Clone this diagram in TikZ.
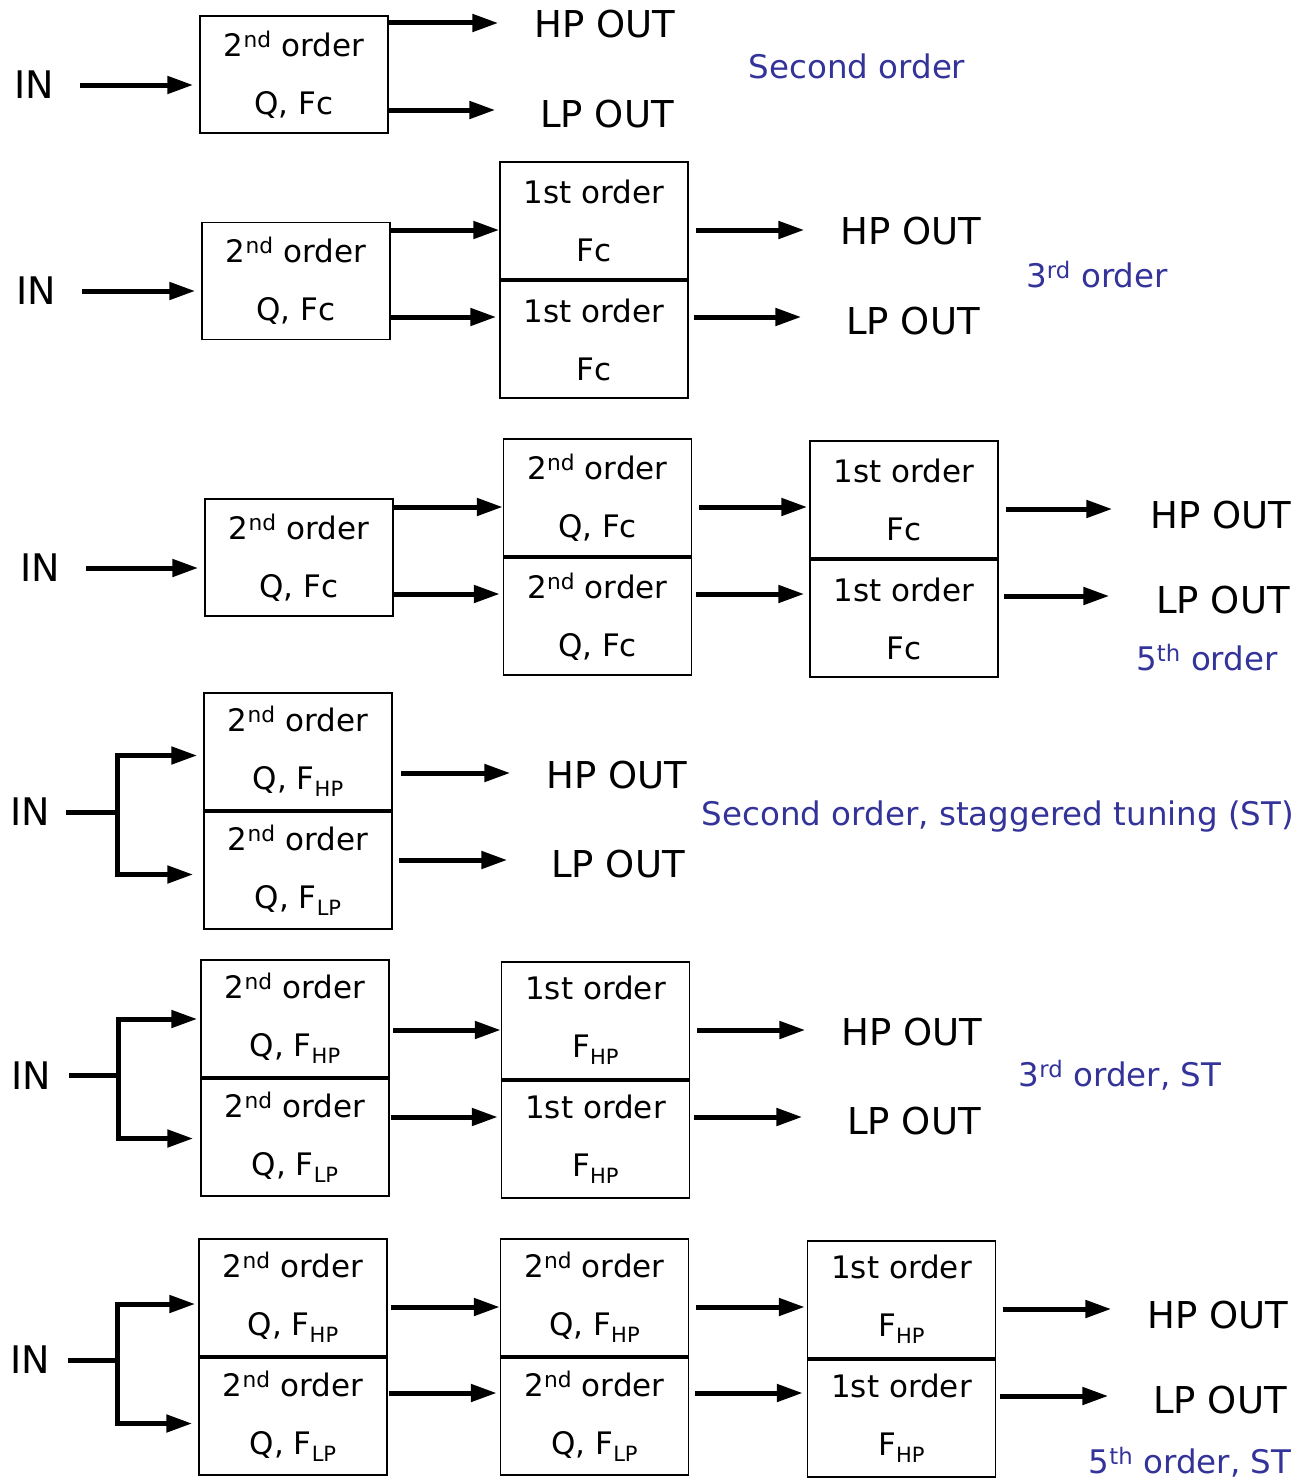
\documentclass[tikz,border=0pt]{standalone}
\usepackage{fontspec}
\setmainfont{DejaVu Sans}
\usetikzlibrary{arrows.meta}
\definecolor{labelblue}{RGB}{51,51,153}
\newcommand{\nd}{2\textsuperscript{nd} order}
\newcommand{\subtxt}[1]{\raisebox{-7pt}{\fontsize{21}{21}\selectfont #1}}
\newcommand{\fhp}{F\subtxt{HP}}
\newcommand{\flp}{F\subtxt{LP}}
\begin{document}
\begin{tikzpicture}[x=1pt,y=-1pt,
    filt/.style={draw,line width=1.5pt,minimum width=188pt,minimum height=117pt,
      inner sep=0pt,align=center,font=\fontsize{31}{58}\selectfont},
    outlbl/.style={inner sep=0pt,minimum width=143pt,font=\fontsize{37}{40}\selectfont},
    inlbl/.style={inner sep=0pt,font=\fontsize{38}{40}\selectfont},
    order/.style={inner sep=0pt,text=labelblue,font=\fontsize{32.5}{36}\selectfont},
    arr/.style={line width=5pt,-{Triangle[length=26pt,width=17pt]}},
    fork/.style={line width=5pt}]
  \useasboundingbox (0,0) rectangle (1309,1480);

  % second order
  \node[inlbl] (in1) at (34,85) {IN};
  \node[filt] (a1) at (294,74.5) {\nd\\Q, Fc};
  \node[outlbl] (hp1) at (605,24) {HP OUT};
  \node[outlbl] (lp1) at (607,114) {LP OUT};
  \node[order] (o1) at (857,66) {Second order};
  \coordinate (h1) at (0,23);
  \coordinate (l1) at (0,110);
  \draw[arr,shorten <=26pt,shorten >=6pt] (in1.east) -- (a1.west |- in1.east);
  \draw[arr,shorten >=35pt] (a1.east |- h1) -- (hp1.west |- h1);
  \draw[arr,shorten >=40pt] (a1.east |- l1) -- (lp1.west |- l1);

  % 3rd order
  \node[inlbl] (in2) at (36,291) {IN};
  \node[filt] (a2) at (296,281) {\nd\\Q, Fc};
  \node[filt] (b21) at (594,220.5) {1st order\\Fc};
  \node[filt] (b22) at (594,339.5) {1st order\\Fc};
  \node[outlbl] (hp2) at (911,231) {HP OUT};
  \node[outlbl] (lp2) at (913,321) {LP OUT};
  \node[order] (o2) at (1097,275) {3\textsuperscript{rd} order};
  \coordinate (h2) at (0,230);
  \coordinate (l2) at (0,317);
  \draw[arr,shorten <=26pt,shorten >=6pt] (in2.east) -- (a2.west |- in2.east);
  \draw[arr] (a2.east |- h2) -- (b21.west |- h2);
  \draw[arr,shorten >=3pt] (a2.east |- l2) -- (b22.west |- l2);
  \draw[arr,shorten <=7pt,shorten >=35pt] (b21.east |- h2) -- (hp2.west |- h2);
  \draw[arr,shorten <=5pt,shorten >=40pt] (b22.east |- l2) -- (lp2.west |- l2);

  % 5th order
  \node[inlbl] (in3) at (40,568) {IN};
  \node[filt] (a3) at (299,557.5) {\nd\\Q, Fc};
  \node[filt] (b31) at (597.5,497.5) {\nd\\Q, Fc};
  \node[filt] (b32) at (597.5,616.5) {\nd\\Q, Fc};
  \node[filt] (c31) at (904,499.5) {1st order\\Fc};
  \node[filt] (c32) at (904,618.5) {1st order\\Fc};
  \node[outlbl] (hp3) at (1221,515) {HP OUT};
  \node[outlbl] (lp3) at (1223,600) {LP OUT};
  \node[order] (o3) at (1207,658) {5\textsuperscript{th} order};
  \coordinate (h3) at (0,507);
  \coordinate (l3) at (0,594);
  \coordinate (hh3) at (0,509);
  \coordinate (ll3) at (0,596);
  \draw[arr,shorten <=26pt,shorten >=6pt] (in3.east) -- (a3.west |- in3.east);
  \draw[arr] (a3.east |- h3) -- (b31.west |- h3);
  \draw[arr,shorten >=3pt] (a3.east |- l3) -- (b32.west |- l3);
  \draw[arr,shorten <=7pt,shorten >=2pt] (b31.east |- h3) -- (c31.west |- h3);
  \draw[arr,shorten <=4pt,shorten >=5pt] (b32.east |- l3) -- (c32.west |- l3);
  \draw[arr,shorten <=7pt,shorten >=37pt] (c31.east |- hh3) -- (hp3.west |- hh3);
  \draw[arr,shorten <=5pt,shorten >=42pt] (c32.east |- ll3) -- (lp3.west |- ll3);

  % second order, ST
  \node[inlbl] (in4) at (30,812) {IN};
  \node[filt] (a41) at (298,751.5) {\nd\\Q, \fhp};
  \node[filt] (a42) at (298,870.5) {\nd\\Q, \flp};
  \node[outlbl] (hp4) at (617,775) {HP OUT};
  \node[outlbl] (lp4) at (618,864) {LP OUT};
  \node[order] (o4) at (998,817) {Second order, staggered tuning (ST)};
  \coordinate (f4) at (117,812);
  \coordinate (h4) at (0,773);
  \coordinate (l4) at (0,860);
  \draw[fork,shorten <=16pt] (in4.east |- f4) -- (f4);
  \draw[arr,shorten >=6pt] (f4) |- ([yshift=-4pt]a41.west);
  \draw[arr,shorten >=10pt] (f4) |- ([yshift=-4pt]a42.west);
  \draw[arr,shorten <=8pt,shorten >=35pt] (a41.east |- h4) -- (hp4.west |- h4);
  \draw[arr,shorten <=6pt,shorten >=39pt] (a42.east |- l4) -- (lp4.west |- l4);

  % 3rd order, ST
  \node[inlbl] (in5) at (31,1076) {IN};
  \node[filt] (a51) at (295,1018.5) {\nd\\Q, \fhp};
  \node[filt] (a52) at (295,1137.5) {\nd\\Q, \flp};
  \node[filt] (b51) at (595.5,1020.5) {1st order\\\fhp};
  \node[filt] (b52) at (595.5,1139.5) {1st order\\\fhp};
  \node[outlbl] (hp5) at (912,1032) {HP OUT};
  \node[outlbl] (lp5) at (914,1121) {LP OUT};
  \node[order] (o5) at (1120,1075) {3\textsuperscript{rd} order, ST};
  \coordinate (f5) at (118,1075);
  \coordinate (h5) at (0,1030);
  \coordinate (l5) at (0,1117);
  \draw[fork,shorten <=18pt] (in5.east |- f5) -- (f5);
  \draw[arr,shorten >=3pt] (f5) |- ([yshift=-0.5pt]a51.west);
  \draw[arr,shorten >=7pt] (f5) |- ([yshift=-1pt]a52.west);
  \draw[arr,shorten <=3pt] (a51.east |- h5) -- (b51.west |- h5);
  \draw[arr,shorten <=1pt,shorten >=3pt] (a52.east |- l5) -- (b52.west |- l5);
  \draw[arr,shorten <=7pt,shorten >=35pt] (b51.east |- h5) -- (hp5.west |- h5);
  \draw[arr,shorten <=4pt,shorten >=40pt] (b52.east |- l5) -- (lp5.west |- l5);

  % 5th order, ST
  \node[inlbl] (in6) at (30,1360) {IN};
  \node[filt] (a61) at (293,1297.5) {\nd\\Q, \fhp};
  \node[filt] (a62) at (293,1416.5) {\nd\\Q, \flp};
  \node[filt] (b61) at (594.5,1297.5) {\nd\\Q, \fhp};
  \node[filt] (b62) at (594.5,1416.5) {\nd\\Q, \flp};
  \node[filt] (c61) at (901.5,1299.5) {1st order\\\fhp};
  \node[filt] (c62) at (901.5,1418.5) {1st order\\\fhp};
  \node[outlbl] (hp6) at (1218,1315) {HP OUT};
  \node[outlbl] (lp6) at (1220,1400) {LP OUT};
  \node[order] (o6) at (1190,1462) {5\textsuperscript{th} order, ST};
  \coordinate (f6) at (117,1360);
  \coordinate (h6) at (0,1307);
  \coordinate (l6) at (0,1393);
  \coordinate (hh6) at (0,1309);
  \coordinate (ll6) at (0,1396);
  \draw[fork,shorten <=18pt] (in6.east |- f6) -- (f6);
  \draw[arr,shorten >=3pt] (f6) |- ([yshift=-6.5pt]a61.west);
  \draw[arr,shorten >=6pt] (f6) |- ([yshift=-7pt]a62.west);
  \draw[arr,shorten <=3pt] (a61.east |- h6) -- (b61.west |- h6);
  \draw[arr,shorten <=1pt,shorten >=3pt] (a62.east |- l6) -- (b62.west |- l6);
  \draw[arr,shorten <=7pt,shorten >=2pt] (b61.east |- h6) -- (c61.west |- h6);
  \draw[arr,shorten <=6pt,shorten >=4pt] (b62.east |- l6) -- (c62.west |- l6);
  \draw[arr,shorten <=7pt,shorten >=35pt] (c61.east |- hh6) -- (hp6.west |- hh6);
  \draw[arr,shorten <=4pt,shorten >=40pt] (c62.east |- ll6) -- (lp6.west |- ll6);
\end{tikzpicture}
\end{document}
